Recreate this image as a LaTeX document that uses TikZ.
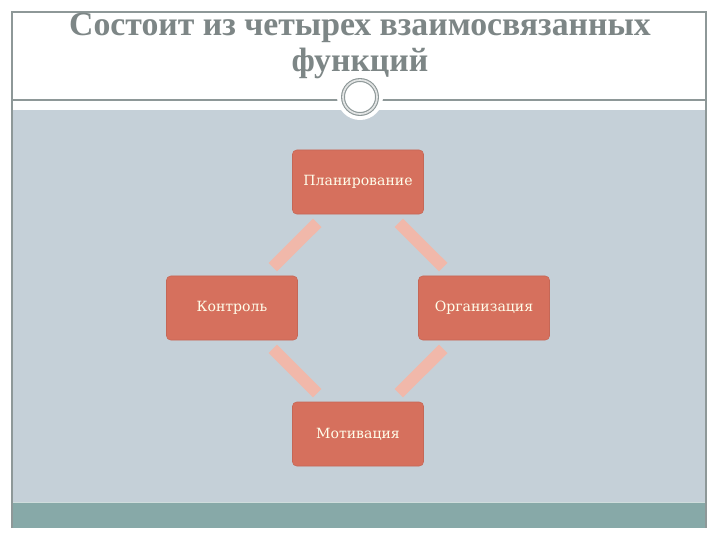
\documentclass[tikz,border=0pt]{standalone}
\usepackage{fontspec}
\setmainfont{DejaVu Serif}
\newfontfamily\titlefont{Liberation Serif}
\definecolor{panelgrey}{HTML}{C5D0D8}
\definecolor{bandteal}{HTML}{87A9A8}
\definecolor{boxred}{HTML}{D6705D}
\definecolor{linkpink}{HTML}{F1B8AA}
\definecolor{titlegrey}{HTML}{7D8686}
\definecolor{framegrey}{HTML}{8E9898}

\begin{document}
\begin{tikzpicture}[x=0.025cm, y=-0.025cm,
    func/.style={rectangle, rounded corners=3pt, fill=boxred, draw=boxred!92!black,
      minimum width=3.275cm, minimum height=1.6cm, text=white!92!yellow,
      font=\fontsize{10}{12}\selectfont},
    link/.style={draw=linkpink, line width=12*0.025cm, shorten <=0.3cm, shorten >=0.3cm}]
  \useasboundingbox (0,0) rectangle (720,540);
  \fill[white] (0,0) rectangle (720,540);

  % Slide frame
  \fill[panelgrey] (12,110) rectangle (706,502);
  \fill[bandteal] (12,503) rectangle (706,528);
  \draw[white!60!bandteal, line width=1pt] (12,502.5) -- (706,502.5);
  \draw[framegrey, line width=0.8pt] (12,528) -- (12,12) -- (706,12) -- (706,528);
  \draw[framegrey, line width=0.8pt] (12,100) -- (706,100);
  \fill[white] (360,97) circle (23);
  \draw[framegrey, line width=0.8pt, double=white!75!framegrey, double distance=1.2pt] (360,97) circle (17);

  % Title
  \node[text=titlegrey, align=center, font=\titlefont\bfseries\fontsize{24}{25}\selectfont]
    (title) at (360,46) {Состоит из четырех взаимосвязанных\\функций};

  % Nodes
  \node[func] (plan) at (358,182) {Планирование};
  \node[func] (kontr) at (232,308) {Контроль};
  \node[func] (org) at (484,308) {Организация};
  \node[func] (motiv) at (358,434) {Мотивация};

  % Links
  \draw[link] (plan) -- (kontr);
  \draw[link] (plan) -- (org);
  \draw[link] (kontr) -- (motiv);
  \draw[link] (org) -- (motiv);
\end{tikzpicture}
\end{document}
